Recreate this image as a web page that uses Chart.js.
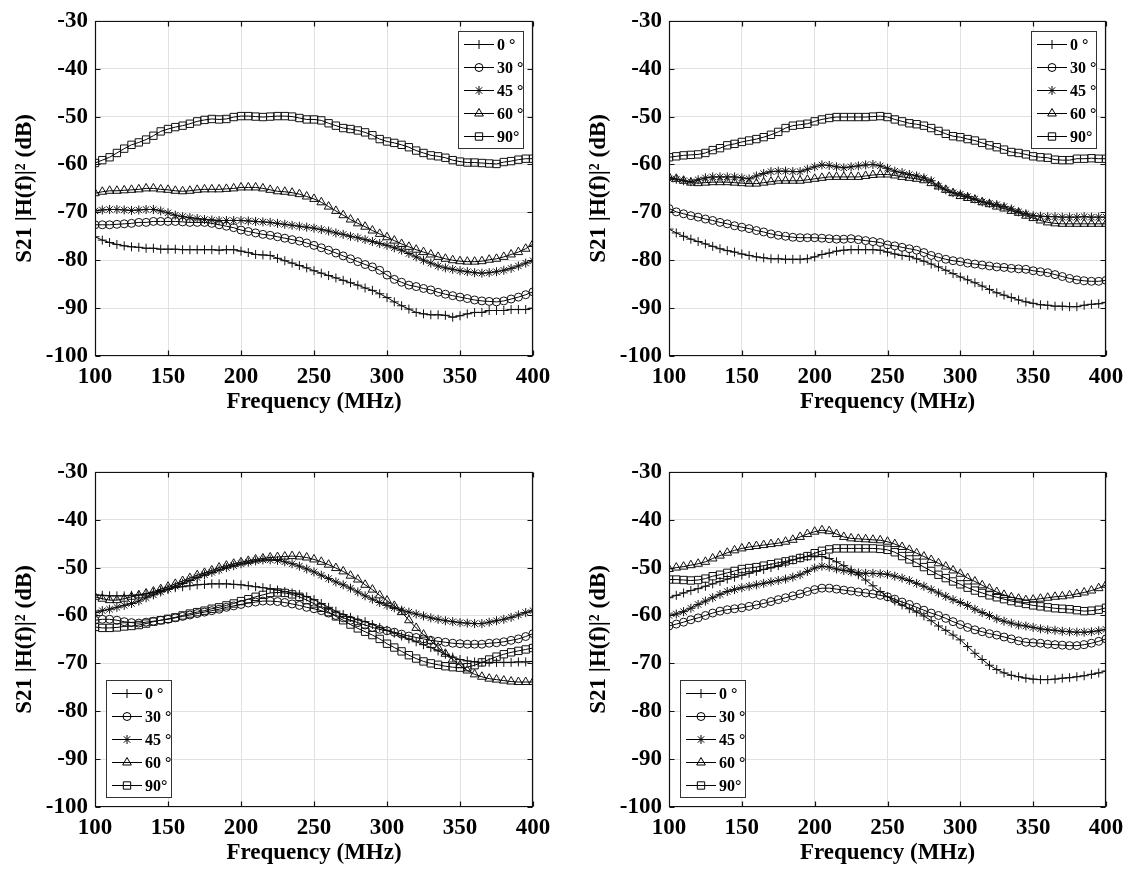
<!DOCTYPE html>
<html>
<head>
<meta charset="utf-8">
<script src="https://cdn.jsdelivr.net/npm/chart.js@4.4.0/dist/chart.umd.min.js"></script>
<style>
html, body { margin: 0; padding: 0; background: #fff; overflow: hidden; }
.panel { position: absolute; }
</style>
</head>
<body>
<div class="panel" style="left:0px;top:0px"><canvas id="panelA" width="567" height="420"></canvas></div>
<div class="panel" style="left:574px;top:0px"><canvas id="panelB" width="560" height="420"></canvas></div>
<div class="panel" style="left:0px;top:451px"><canvas id="panelC" width="567" height="420"></canvas></div>
<div class="panel" style="left:574px;top:451px"><canvas id="panelD" width="560" height="420"></canvas></div>
<script>
// frequency points (MHz)
const freqs = [100,105,110,115,120,125,130,135,140,145,150,155,160,165,170,175,180,185,190,195,
               200,205,210,215,220,225,230,235,240,245,250,255,260,265,270,275,280,285,290,295,
               300,305,310,315,320,325,330,335,340,345,350,355,360,365,370,375,380,385,390,395,400];
const angleLabels = ['0 °', '30 °', '45 °', '60 °', '90°'];
const xTicks = [100, 150, 200, 250, 300, 350, 400];
const yTicks = [-100, -90, -80, -70, -60, -50, -40, -30];

// top left panel
const a0 = [-75.1,-75.8,-76.3,-76.7,-77.0,-77.2,-77.3,-77.5,-77.5,-77.7,-77.7,-77.7,-77.8,-77.8,-77.8,-77.8,-77.8,-77.9,-77.8,-77.8,
            -78.1,-78.4,-78.8,-78.9,-79.0,-79.6,-80.1,-80.6,-81.1,-81.6,-82.2,-82.7,-83.2,-83.7,-84.2,-84.7,-85.2,-85.8,-86.3,-87.0,
            -87.8,-88.7,-89.5,-90.2,-90.9,-91.2,-91.4,-91.4,-91.5,-91.9,-91.6,-91.2,-90.9,-90.9,-90.5,-90.5,-90.5,-90.3,-90.3,-90.3,-90.0];
const a30 = [-72.6,-72.6,-72.6,-72.5,-72.4,-72.3,-72.1,-72.1,-71.9,-71.9,-71.9,-71.9,-72.0,-72.1,-72.1,-72.1,-72.3,-72.6,-72.9,-73.2,
             -73.7,-74.0,-74.3,-74.6,-74.8,-75.1,-75.4,-75.7,-76.0,-76.4,-76.9,-77.4,-77.9,-78.5,-79.1,-79.7,-80.3,-80.9,-81.4,-82.1,
             -83.1,-84.0,-84.6,-85.2,-85.5,-85.9,-86.2,-86.7,-87.1,-87.4,-87.7,-88.0,-88.3,-88.5,-88.6,-88.7,-88.5,-88.1,-87.7,-87.2,-86.6];
const a45 = [-69.7,-69.5,-69.4,-69.4,-69.5,-69.6,-69.5,-69.4,-69.4,-69.7,-70.1,-70.6,-70.9,-71.1,-71.3,-71.5,-71.6,-71.7,-71.7,-71.7,
             -71.7,-71.8,-71.9,-72.0,-72.1,-72.3,-72.5,-72.7,-72.9,-73.1,-73.3,-73.6,-73.9,-74.3,-74.6,-75.0,-75.3,-75.7,-76.1,-76.5,
             -76.9,-77.4,-77.9,-78.6,-79.3,-80.0,-80.6,-81.2,-81.6,-81.9,-82.2,-82.4,-82.6,-82.7,-82.6,-82.4,-82.1,-81.7,-81.2,-80.6,-80.1];
const a60 = [-66.0,-65.7,-65.5,-65.5,-65.4,-65.3,-65.2,-65.0,-65.0,-65.2,-65.3,-65.5,-65.6,-65.5,-65.3,-65.2,-65.2,-65.2,-65.1,-65.0,
             -64.8,-64.8,-64.8,-65.0,-65.3,-65.6,-65.7,-65.9,-66.2,-66.7,-67.2,-67.9,-68.8,-69.7,-70.6,-71.5,-72.3,-73.0,-73.8,-74.5,
             -75.2,-75.9,-76.6,-77.2,-77.8,-78.3,-78.8,-79.3,-79.7,-80.0,-80.2,-80.3,-80.3,-80.2,-79.9,-79.7,-79.3,-78.8,-78.3,-77.6,-76.6];
const a90 = [-59.7,-59.1,-58.5,-57.6,-56.7,-55.9,-55.4,-54.8,-54.0,-53.1,-52.6,-52.2,-51.9,-51.5,-51.0,-50.7,-50.5,-50.6,-50.5,-50.1,
             -49.9,-49.9,-50.0,-50.1,-50.0,-49.9,-49.9,-50.0,-50.3,-50.6,-50.6,-50.8,-51.4,-51.9,-52.4,-52.6,-52.9,-53.3,-53.9,-54.7,
             -55.2,-55.5,-55.9,-56.4,-57.1,-57.6,-58.1,-58.3,-58.6,-59.1,-59.4,-59.6,-59.6,-59.7,-59.8,-59.9,-59.5,-59.3,-59.0,-58.8,-58.8];

// top right panel
const b0 = [-73.5,-74.3,-75.0,-75.6,-76.1,-76.6,-77.1,-77.6,-78.0,-78.3,-78.7,-79.0,-79.3,-79.5,-79.7,-79.7,-79.8,-79.8,-79.8,-79.7,
            -79.3,-78.8,-78.5,-78.1,-77.9,-77.8,-77.8,-77.8,-77.8,-77.9,-78.3,-78.7,-79.0,-79.2,-79.7,-80.2,-80.8,-81.4,-82.1,-82.8,
            -83.5,-84.1,-84.7,-85.4,-86.1,-86.8,-87.3,-87.8,-88.3,-88.7,-89.0,-89.3,-89.4,-89.6,-89.6,-89.7,-89.7,-89.4,-89.2,-89.1,-88.8];
const b30 = [-69.2,-69.9,-70.3,-70.7,-71.0,-71.4,-71.7,-72.1,-72.4,-72.8,-73.1,-73.4,-73.8,-74.1,-74.5,-74.8,-75.0,-75.2,-75.3,-75.3,
             -75.3,-75.4,-75.5,-75.6,-75.6,-75.5,-75.7,-75.9,-76.1,-76.3,-76.8,-77.0,-77.3,-77.6,-77.9,-78.4,-79.0,-79.4,-79.8,-80.1,
             -80.3,-80.6,-80.8,-81.0,-81.2,-81.4,-81.5,-81.7,-81.8,-81.9,-82.2,-82.4,-82.6,-83.0,-83.4,-83.8,-84.1,-84.3,-84.4,-84.4,-84.2];
const b45 = [-63.0,-63.1,-63.4,-63.6,-63.2,-62.8,-62.6,-62.6,-62.6,-62.6,-62.8,-63.0,-62.4,-61.9,-61.5,-61.4,-61.4,-61.5,-61.5,-61.0,
             -60.5,-60.1,-60.2,-60.5,-60.7,-60.5,-60.3,-60.1,-60.0,-60.3,-60.8,-61.4,-61.7,-62.1,-62.4,-62.8,-63.4,-64.5,-65.3,-65.9,
             -66.2,-66.7,-67.2,-67.8,-68.1,-68.4,-68.8,-69.3,-69.9,-70.3,-70.7,-70.8,-70.9,-70.9,-71.0,-71.0,-71.0,-70.9,-71.0,-71.0,-71.0];
const b60 = [-62.6,-63.0,-63.4,-63.8,-63.9,-63.8,-63.7,-63.7,-63.7,-63.8,-63.9,-64.0,-64.0,-63.8,-63.6,-63.4,-63.4,-63.4,-63.4,-63.2,
             -63.0,-62.8,-62.6,-62.6,-62.6,-62.6,-62.6,-62.4,-62.2,-62.1,-62.1,-62.3,-62.6,-62.8,-63.0,-63.3,-63.9,-64.6,-65.3,-66.0,
             -66.6,-67.0,-67.4,-67.9,-68.3,-68.8,-69.2,-69.7,-70.1,-70.7,-71.2,-71.7,-72.1,-72.3,-72.4,-72.4,-72.4,-72.4,-72.4,-72.4,-72.4];
const b90 = [-58.5,-58.3,-58.1,-58.0,-57.9,-57.6,-57.0,-56.6,-56.0,-55.7,-55.3,-55.0,-54.7,-54.3,-53.8,-53.2,-52.4,-51.9,-51.7,-51.5,
             -51.0,-50.6,-50.3,-50.1,-50.1,-50.1,-50.1,-50.1,-50.0,-49.9,-50.1,-50.6,-51.0,-51.4,-51.6,-51.9,-52.4,-53.0,-53.6,-54.1,
             -54.3,-54.7,-55.0,-55.5,-56.0,-56.4,-56.9,-57.4,-57.6,-57.9,-58.3,-58.5,-58.6,-59.0,-59.1,-59.1,-58.8,-58.8,-58.7,-58.8,-58.8];

// bottom left panel
const c0 = [-55.7,-55.8,-55.9,-55.9,-55.9,-55.8,-55.7,-55.5,-55.2,-54.8,-54.5,-54.2,-54.0,-53.8,-53.6,-53.5,-53.4,-53.4,-53.4,-53.5,
            -53.6,-53.8,-54.0,-54.2,-54.4,-54.7,-55.0,-55.3,-55.6,-56.1,-56.7,-57.5,-58.3,-59.1,-59.8,-60.4,-60.9,-61.3,-61.9,-62.5,
            -63.1,-63.7,-64.3,-64.9,-65.5,-66.1,-66.7,-67.4,-68.1,-68.7,-69.2,-69.5,-69.7,-69.8,-69.8,-69.8,-69.8,-69.8,-69.7,-69.7,-69.6];
const c30 = [-61.0,-60.8,-60.8,-61.0,-61.3,-61.5,-61.6,-61.4,-61.2,-61.0,-60.8,-60.5,-60.2,-59.9,-59.6,-59.3,-59.0,-58.7,-58.3,-58.0,
             -57.7,-57.4,-57.2,-57.0,-57.0,-57.1,-57.3,-57.6,-57.9,-58.3,-58.6,-59.0,-59.5,-60.0,-60.5,-61.0,-61.5,-62.0,-62.5,-62.9,
             -63.2,-63.5,-63.9,-64.3,-64.6,-64.9,-65.2,-65.4,-65.6,-65.8,-65.9,-66.0,-66.0,-66.0,-65.8,-65.7,-65.5,-65.2,-64.9,-64.4,-63.8];
const c45 = [-59.4,-59.0,-58.7,-58.3,-57.9,-57.5,-57.0,-56.3,-55.7,-55.1,-54.5,-53.9,-53.3,-52.7,-52.1,-51.5,-51.0,-50.5,-50.0,-49.6,
             -49.2,-48.9,-48.6,-48.4,-48.4,-48.5,-48.8,-49.2,-49.7,-50.3,-50.9,-51.6,-52.3,-53.0,-53.6,-54.3,-55.1,-55.9,-56.6,-57.3,
             -57.9,-58.4,-58.9,-59.3,-59.7,-60.1,-60.5,-60.8,-61.1,-61.3,-61.5,-61.6,-61.7,-61.7,-61.4,-61.1,-60.8,-60.4,-59.9,-59.4,-59.0];
const c60 = [-56.1,-56.5,-56.8,-56.8,-56.5,-56.1,-55.8,-55.4,-55.0,-54.5,-54.0,-53.4,-52.8,-52.2,-51.6,-51.1,-50.6,-50.0,-49.6,-49.2,
             -48.9,-48.6,-48.3,-48.1,-47.9,-47.8,-47.7,-47.6,-47.7,-47.9,-48.3,-48.8,-49.4,-50.1,-50.8,-51.7,-52.5,-53.6,-54.6,-55.8,
             -56.9,-58.0,-59.3,-61.0,-62.6,-64.0,-65.3,-66.7,-68.0,-69.2,-70.4,-71.5,-72.3,-72.8,-73.2,-73.4,-73.6,-73.8,-73.9,-73.9,-73.9];
const c90 = [-62.4,-62.6,-62.6,-62.5,-62.3,-62.2,-62.0,-61.7,-61.3,-61.0,-60.7,-60.4,-60.0,-59.6,-59.3,-59.0,-58.6,-58.3,-57.9,-57.5,
             -57.0,-56.6,-56.1,-55.7,-55.3,-55.2,-55.3,-55.6,-56.1,-56.8,-57.5,-58.4,-59.3,-60.2,-61.0,-61.9,-62.7,-63.4,-64.1,-64.9,
             -65.9,-66.7,-67.5,-68.3,-69.0,-69.6,-70.0,-70.3,-70.6,-70.8,-70.9,-70.8,-70.4,-69.8,-69.2,-68.6,-68.1,-67.7,-67.4,-67.1,-66.8];

// bottom right panel
const d0 = [-56.3,-55.8,-55.3,-54.8,-54.4,-53.9,-53.4,-52.9,-52.4,-52.0,-51.6,-51.2,-50.8,-50.4,-50.0,-49.6,-49.0,-48.4,-48.0,-47.7,
            -47.6,-47.7,-48.1,-48.8,-49.6,-50.5,-51.5,-52.6,-53.8,-55.0,-56.1,-57.0,-57.8,-58.6,-59.3,-60.1,-61.1,-62.2,-63.1,-64.1,
            -65.1,-66.5,-67.9,-69.2,-70.4,-71.3,-72.0,-72.5,-72.8,-73.1,-73.3,-73.4,-73.4,-73.3,-73.1,-73.0,-72.8,-72.6,-72.3,-72.0,-71.6];
const d30 = [-62.2,-61.8,-61.4,-60.9,-60.5,-60.0,-59.5,-59.1,-58.8,-58.6,-58.4,-58.1,-57.8,-57.5,-57.1,-56.7,-56.3,-55.9,-55.5,-55.0,
             -54.6,-54.3,-54.3,-54.5,-54.7,-54.9,-55.1,-55.3,-55.5,-55.8,-56.1,-56.6,-57.2,-57.7,-58.3,-58.9,-59.5,-60.0,-60.6,-61.3,
             -61.9,-62.5,-63.0,-63.4,-63.8,-64.1,-64.5,-64.9,-65.3,-65.6,-65.7,-65.8,-66.0,-66.1,-66.2,-66.3,-66.3,-66.1,-65.8,-65.4,-64.9];
const d45 = [-60.0,-59.7,-59.2,-58.5,-57.7,-57.0,-56.3,-55.6,-55.0,-54.6,-54.2,-53.9,-53.6,-53.3,-53.0,-52.7,-52.4,-52.0,-51.5,-50.8,
             -50.1,-49.7,-49.9,-50.3,-50.6,-50.9,-51.1,-51.2,-51.2,-51.3,-51.4,-51.8,-52.2,-52.7,-53.3,-53.9,-54.6,-55.3,-56.0,-56.7,
             -57.3,-57.9,-58.7,-59.4,-60.0,-60.7,-61.2,-61.6,-62.0,-62.2,-62.5,-62.8,-63.0,-63.1,-63.3,-63.4,-63.5,-63.5,-63.4,-63.2,-62.9];
const d60 = [-50.3,-50.0,-49.8,-49.5,-49.2,-48.8,-48.1,-47.5,-46.9,-46.4,-46.0,-45.7,-45.5,-45.3,-45.1,-44.9,-44.6,-44.2,-43.6,-43.0,
             -42.5,-42.2,-42.4,-43.0,-43.6,-43.9,-44.0,-44.1,-44.2,-44.3,-44.6,-45.1,-45.7,-46.3,-47.0,-47.7,-48.4,-49.1,-49.8,-50.6,
             -51.3,-52.2,-52.9,-53.7,-54.4,-55.1,-55.7,-56.2,-56.5,-56.8,-56.7,-56.5,-56.3,-56.1,-56.0,-55.8,-55.5,-55.2,-54.8,-54.3,-53.6];
const d90 = [-52.5,-52.5,-52.6,-52.7,-52.6,-52.3,-51.8,-51.5,-51.1,-50.7,-50.3,-50.1,-49.9,-49.6,-49.3,-49.0,-48.7,-48.4,-48.0,-47.6,
             -47.0,-46.5,-46.2,-46.0,-46.0,-46.0,-46.0,-46.0,-46.0,-46.1,-46.3,-46.8,-47.6,-48.3,-49.0,-49.9,-50.7,-51.5,-52.2,-52.9,
             -53.5,-54.2,-54.8,-55.3,-55.8,-56.2,-56.6,-57.0,-57.3,-57.6,-57.9,-58.1,-58.3,-58.5,-58.6,-58.7,-58.9,-59.1,-59.0,-58.8,-58.4];

const markerStyles = ['cross', 'circle', 'star', 'triangle', 'rect'];
const markerSizes = [4.5, 4, 4.5, 5, 5.2];
const serif = "'Liberation Serif', 'Times New Roman', serif";

// frame with inward ticks + MATLAB-like legend box
const frameLegend = {
    id: 'frameLegend',
    afterDatasetsDraw(chart, args, opts) {
        const ctx = chart.ctx;
        const a = chart.chartArea;
        const sx = chart.scales.x, sy = chart.scales.y;
        const L = Math.round(a.left) + 0.5, R = Math.round(a.right) - 0.5;
        const T = Math.round(a.top) + 0.5, B = Math.round(a.bottom) - 0.5;
        ctx.save();
        ctx.strokeStyle = '#111';
        ctx.lineWidth = 1.2;
        ctx.beginPath();
        ctx.rect(L, T, R - L, B - T);
        xTicks.forEach(v => {
            const px = Math.round(sx.getPixelForValue(v)) + 0.5;
            ctx.moveTo(px, B); ctx.lineTo(px, B - 5);
            ctx.moveTo(px, T); ctx.lineTo(px, T + 5);
        });
        yTicks.forEach(v => {
            const py = Math.round(sy.getPixelForValue(v)) + 0.5;
            ctx.moveTo(L, py); ctx.lineTo(L + 5, py);
            ctx.moveTo(R, py); ctx.lineTo(R - 5, py);
        });
        ctx.stroke();

        // legend
        const w = 65, h = 117;
        let bx, by;
        if (opts.corner === 'ne') {
            bx = Math.round(a.right) - 10 - w;
            by = Math.round(a.top) + 10;
        } else {
            bx = Math.round(a.left) + 11;
            by = Math.round(a.bottom) - 10 - h;
        }
        ctx.lineWidth = 1;
        ctx.fillStyle = '#fff';
        ctx.fillRect(bx, by, w, h);
        ctx.strokeStyle = '#333';
        ctx.strokeRect(bx + 0.5, by + 0.5, w, h);
        ctx.font = 'bold 16px ' + serif;
        ctx.textBaseline = 'middle';
        ctx.textAlign = 'left';
        chart.data.datasets.forEach((ds, i) => {
            const y = Math.round(by + 13 + i * 23) + 0.5;
            ctx.strokeStyle = '#000';
            ctx.beginPath();
            ctx.moveTo(bx + 6, y);
            ctx.lineTo(bx + 36, y);
            ctx.stroke();
            ctx.fillStyle = 'rgba(0,0,0,0)';
            Chart.helpers.drawPoint(ctx, {pointStyle: ds.pointStyle, radius: ds.pointRadius, borderWidth: 1, rotation: 0}, bx + 21, y);
            ctx.fillStyle = '#000';
            ctx.fillText(ds.label, bx + 39, y + 1);
        });
        ctx.restore();
    }
};

function makePanel(canvasId, series, corner, padRight) {
    const ctx = document.getElementById(canvasId).getContext('2d');
    return new Chart(ctx, {
        type: 'line',
        data: {
            datasets: series.map((vals, i) => ({
                label: angleLabels[i],
                data: freqs.map((f, k) => ({x: f, y: vals[k]})),
                borderColor: '#000',
                borderWidth: 1,
                pointStyle: markerStyles[i],
                pointRadius: markerSizes[i],
                pointBorderColor: '#111',
                pointBackgroundColor: 'rgba(0,0,0,0)',
                pointBorderWidth: 1,
                tension: 0,
                fill: false
            }))
        },
        options: {
            responsive: false,
            animation: false,
            devicePixelRatio: 1,
            events: [],
            layout: { padding: { top: 16, right: padRight, bottom: 0, left: 0 } },
            plugins: {
                legend: { display: false },
                tooltip: { enabled: false },
                frameLegend: { corner: corner }
            },
            scales: {
                x: {
                    type: 'linear',
                    min: 100,
                    max: 400,
                    border: { display: false },
                    grid: { color: '#e1e1e1', lineWidth: 1, drawTicks: false },
                    ticks: { stepSize: 50, padding: 7, color: '#000', font: { family: serif, size: 23, weight: 'bold' } },
                    title: {
                        display: true, text: 'Frequency (MHz)', color: '#000',
                        font: { family: serif, size: 23, weight: 'bold' },
                        padding: { top: 0, bottom: 4 }
                    },
                    afterFit: s => { s.height = 64; }
                },
                y: {
                    min: -100,
                    max: -30,
                    border: { display: false },
                    grid: { color: '#e1e1e1', lineWidth: 1, drawTicks: false },
                    ticks: { stepSize: 10, padding: 7, color: '#000', font: { family: serif, size: 23, weight: 'bold' } },
                    title: {
                        display: true, text: 'S21 |H(f)|² (dB)', color: '#000',
                        font: { family: serif, size: 23, weight: 'bold' },
                        padding: { top: 11, bottom: 0 }
                    },
                    afterFit: s => { s.width = 95; }
                }
            }
        },
        plugins: [frameLegend]
    });
}

makePanel('panelA', [a0, a30, a45, a60, a90], 'ne', 34);
makePanel('panelB', [b0, b30, b45, b60, b90], 'ne', 28);
makePanel('panelC', [c0, c30, c45, c60, c90], 'sw', 34);
makePanel('panelD', [d0, d30, d45, d60, d90], 'sw', 28);
</script>
</body>
</html>
